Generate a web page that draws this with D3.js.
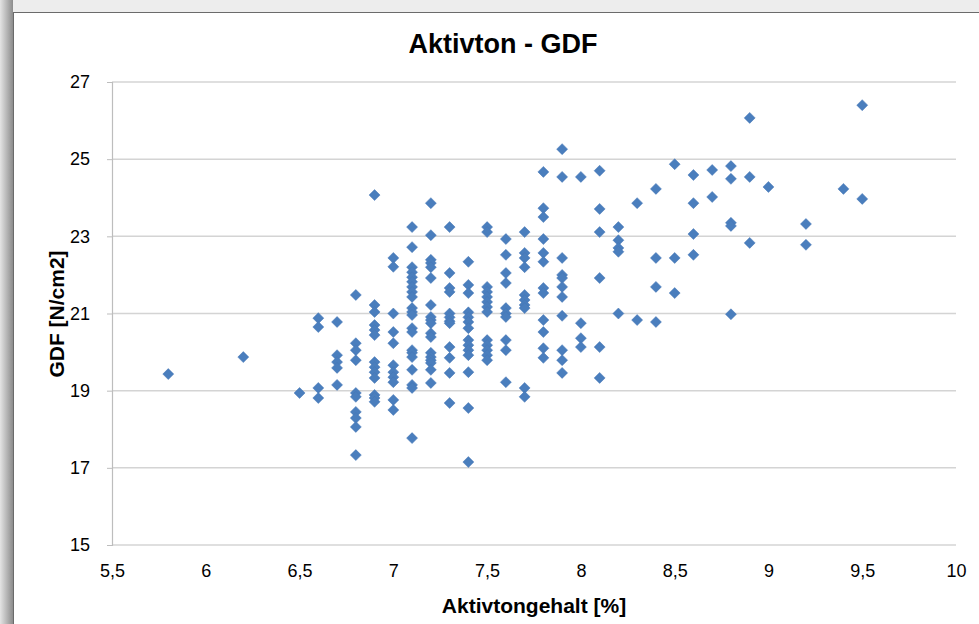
<!DOCTYPE html>
<html><head><meta charset="utf-8">
<script src="https://cdn.jsdelivr.net/npm/d3@7"></script>
<style>
html,body{margin:0;padding:0;background:#fff;}
svg{display:block;}
text{font-family:"Liberation Sans Narrow","Arial Narrow","Liberation Sans",sans-serif;fill:#000;}
</style></head>
<body>
<svg id="chart" width="979" height="624"></svg>
<script>
const title = "Aktivton - GDF";
const xTitle = "Aktivtongehalt [%]";
const yTitle = "GDF [N/cm2]";
const xTicks = [5.5, 6, 6.5, 7, 7.5, 8, 8.5, 9, 9.5, 10];
const yTicks = [15, 17, 19, 21, 23, 25, 27];
const xLevels = [5.8, 6.2, 6.5, 6.6, 6.7, 6.8, 6.9, 7.0, 7.1, 7.2, 7.3, 7.4, 7.5, 7.6, 7.7, 7.8, 7.9, 8.0, 8.1, 8.2, 8.3, 8.4, 8.5, 8.6, 8.7, 8.8, 8.9, 9.0, 9.2, 9.4, 9.5];
const gdfByLevel = [
  [19.43],
  [19.87],
  [18.94],
  [20.88, 20.65, 19.07, 18.81],
  [20.78, 19.92, 19.74, 19.59, 19.15],
  [21.48, 20.23, 20.05, 19.79, 18.94, 18.84, 18.45, 18.29, 18.06, 17.33],
  [24.07, 21.22, 21.04, 20.7, 20.57, 20.44, 19.74, 19.61, 19.48, 19.33, 18.89, 18.81, 18.71],
  [22.44, 22.21, 21.0, 20.52, 20.23, 19.66, 19.48, 19.35, 19.22, 18.76, 18.5],
  [23.24, 22.72, 22.2, 22.07, 21.94, 21.82, 21.69, 21.56, 21.43, 21.14, 21.04, 20.96, 20.62, 20.52, 20.05, 19.98, 19.87, 19.54, 19.15, 19.07, 17.77],
  [23.86, 23.03, 22.39, 22.31, 22.2, 21.92, 21.22, 20.91, 20.83, 20.75, 20.49, 20.39, 19.98, 19.87, 19.79, 19.72, 19.54, 19.2],
  [23.24, 22.05, 21.66, 21.56, 21.0, 20.9, 20.8, 20.75, 20.13, 19.85, 19.46, 18.68],
  [22.34, 21.74, 21.53, 21.03, 20.9, 20.78, 20.62, 20.31, 20.18, 20.05, 19.92, 19.48, 18.55, 17.15],
  [23.24, 23.11, 21.69, 21.56, 21.43, 21.3, 21.17, 21.04, 20.31, 20.18, 20.05, 19.92, 19.79],
  [22.93, 22.52, 22.05, 21.79, 21.14, 21.0, 20.91, 20.31, 20.05, 19.22],
  [23.11, 22.57, 22.44, 22.2, 21.48, 21.35, 21.22, 21.14, 19.07, 18.84],
  [24.67, 23.73, 23.5, 22.93, 22.57, 22.34, 21.66, 21.53, 20.83, 20.52, 20.1, 19.85],
  [25.26, 24.54, 22.44, 22.0, 21.92, 21.69, 21.43, 20.94, 20.05, 19.79, 19.46],
  [24.54, 20.75, 20.36, 20.13],
  [24.7, 23.71, 23.11, 21.92, 20.13, 19.33],
  [23.24, 22.9, 22.7, 22.6, 21.0],
  [23.86, 20.83],
  [24.23, 22.44, 21.69, 20.78],
  [24.87, 22.44, 21.53],
  [24.59, 23.86, 23.06, 22.52],
  [24.72, 24.02],
  [24.82, 24.49, 23.35, 23.27, 20.98],
  [26.07, 24.54, 22.83],
  [24.28],
  [23.32, 22.78],
  [24.23],
  [26.4, 23.97]
];

const points = [];
xLevels.forEach((xv, i) => gdfByLevel[i].forEach(yv => points.push({x: xv, y: yv})));

const svg = d3.select("#chart");

// frame / surroundings
const defs = svg.append("defs");
const lg = defs.append("linearGradient").attr("id", "leftEdge").attr("x1", 0).attr("x2", 1);
lg.append("stop").attr("offset", 0).attr("stop-color", "#e4e4e4");
lg.append("stop").attr("offset", 1).attr("stop-color", "#8c8c8c");
svg.append("rect").attr("x", 0).attr("y", 0).attr("width", 979).attr("height", 624).attr("fill", "#ededed");
svg.append("rect").attr("x", 0).attr("y", 0).attr("width", 13).attr("height", 624).attr("fill", "url(#leftEdge)");
svg.append("rect").attr("x", 13.5).attr("y", 12.5).attr("width", 980).attr("height", 620)
  .attr("fill", "#fff").attr("stroke", "#6b6b6b").attr("stroke-width", 1);

const margin = {left: 112, right: 956, top: 82, bottom: 545};
const x = d3.scaleLinear().domain([5.5, 10]).range([margin.left, margin.right]);
const y = d3.scaleLinear().domain([15, 27]).range([margin.bottom, margin.top]);

// gridlines
svg.append("g").selectAll("line").data(yTicks).join("line")
  .attr("x1", margin.left).attr("x2", margin.right)
  .attr("y1", d => y(d)).attr("y2", d => y(d))
  .attr("stroke", "#d4d4d4").attr("stroke-width", 1.5);

// y axis
const yAxis = d3.axisLeft(y).tickValues(yTicks).tickSize(5).tickPadding(17).tickFormat(d3.format("d"));
const gy = svg.append("g").attr("transform", `translate(${margin.left},0)`).call(yAxis);
gy.select(".domain").attr("stroke", "#bdbdbd").attr("stroke-width", 1.2);
gy.selectAll(".tick line").attr("stroke", "#bdbdbd");
gy.selectAll("text").style("font-size", "18px").attr("fill", "#000");

// x axis
const xAxis = d3.axisBottom(x).tickValues(xTicks).tickSize(0).tickPadding(19)
  .tickFormat(d => String(d).replace(".", ","));
const gx = svg.append("g").attr("transform", `translate(0,${margin.bottom})`).call(xAxis);
gx.select(".domain").remove();
gx.selectAll("text").style("font-size", "18px").attr("fill", "#000");

// points
const diamond = "M0,-5.5L5.5,0L0,5.5L-5.5,0Z";
svg.append("g").selectAll("path").data(points).join("path")
  .attr("d", diamond)
  .attr("transform", d => `translate(${x(d.x)},${y(d.y)})`)
  .attr("fill", "#4a7ebd").attr("stroke", "#4676b4").attr("stroke-width", 0.5);

// titles
svg.append("text").attr("x", 503).attr("y", 53).attr("text-anchor", "middle")
  .style("font-size", "27px").style("font-weight", "bold").text(title);
svg.append("text").attr("x", 534).attr("y", 613).attr("text-anchor", "middle")
  .style("font-size", "21px").style("font-weight", "bold").text(xTitle);
svg.append("text").attr("transform", "translate(64,314) rotate(-90)").attr("text-anchor", "middle")
  .style("font-size", "21px").style("font-weight", "bold").text(yTitle);
</script>
</body></html>
